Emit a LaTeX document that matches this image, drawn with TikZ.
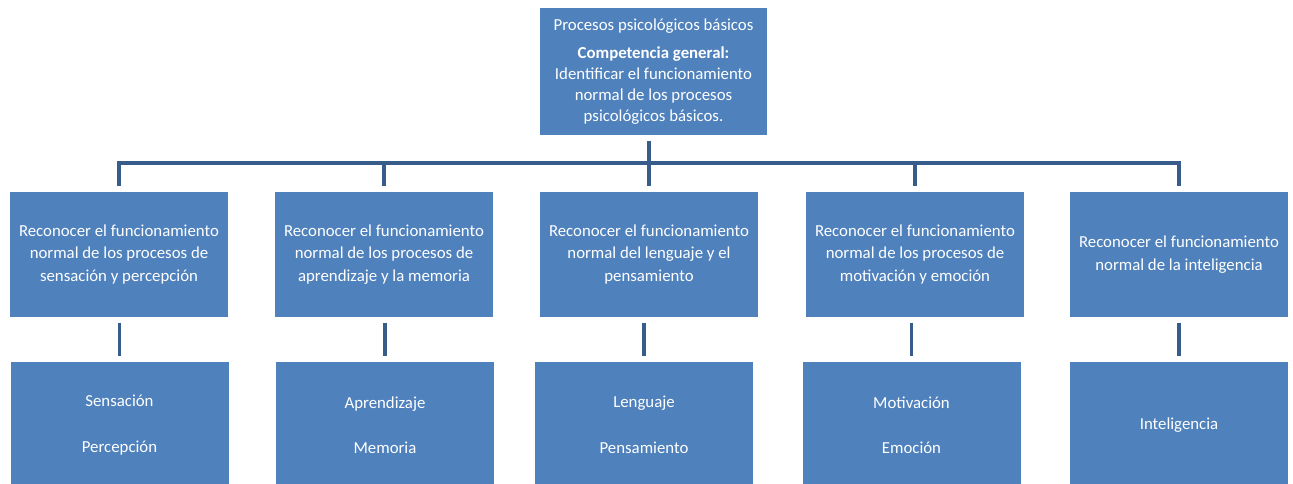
\documentclass[tikz,border=0pt]{standalone}
\usepackage{fontspec}
\setmainfont{Carlito}
\usepackage{tikz}
\definecolor{cajaazul}{RGB}{79,129,189}
\definecolor{lineaazul}{RGB}{56,93,138}

\begin{document}
\begin{tikzpicture}[x=1pt,y=-1pt,
  caja/.style={fill=cajaazul,text=white,align=center,inner sep=0pt,
    minimum width=218pt,minimum height=125pt,
    font=\fontsize{16.8}{22.5}\selectfont},
  enlace/.style={draw=lineaazul,line width=3.6pt,shorten <=5.5pt,shorten >=5.5pt}]
  \useasboundingbox (0,0) rectangle (1293,483);
  % caja superior
  \node[caja,minimum width=227pt,minimum height=127pt,
    font=\fontsize{16.8}{21}\selectfont] (raiz) at (653.5,71.5)
    {Procesos psicológicos básicos\\[7pt]
     \textbf{Competencia general:}\\
     Identificar el funcionamiento\\
     normal de los procesos\\
     psicológicos básicos.};
  % competencias
  \node[caja] (comp1) at (119,254.5)  {Reconocer el funcionamiento\\normal de los procesos de\\sensación y percepción};
  \node[caja] (comp2) at (384,254.5)  {Reconocer el funcionamiento\\normal de los procesos de\\aprendizaje y la memoria};
  \node[caja] (comp3) at (649,254.5)  {Reconocer el funcionamiento\\normal del lenguaje y el\\pensamiento};
  \node[caja] (comp4) at (915,254.5)  {Reconocer el funcionamiento\\normal de los procesos de\\motivación y emoción};
  \node[caja] (comp5) at (1179,254.5) {Reconocer el funcionamiento\\normal de la inteligencia};
  % temas
  \node[caja,minimum height=126pt] (tema1) at (119.5,425) {Sensación\\[23pt]Percepción};
  \node[caja,minimum height=126pt] (tema2) at (385,425)   {Aprendizaje\\[23pt]Memoria};
  \node[caja,minimum height=126pt] (tema3) at (644,425)   {Lenguaje\\[23pt]Pensamiento};
  \node[caja,minimum height=126pt] (tema4) at (911.5,425) {Motivación\\[23pt]Emoción};
  \node[caja,minimum height=126pt] (tema5) at (1179,425)  {Inteligencia};
  % conectores
  \coordinate (barra) at (649,163);
  \draw[enlace] (comp1.north) |- (barra) -| (comp5.north);
  \draw[enlace,shorten <=0pt] (comp2.north |- barra) -- (comp2.north);
  \draw[enlace,shorten <=0pt] (comp4.north |- barra) -- (comp4.north);
  \draw[enlace] (comp3.north |- raiz.south) -- (comp3.north);
  \draw[enlace] (tema1.north |- comp1.south) -- (tema1.north);
  \draw[enlace] (tema2.north |- comp2.south) -- (tema2.north);
  \draw[enlace] (tema3.north |- comp3.south) -- (tema3.north);
  \draw[enlace] (tema4.north |- comp4.south) -- (tema4.north);
  \draw[enlace] (tema5.north |- comp5.south) -- (tema5.north);
\end{tikzpicture}
\end{document}
